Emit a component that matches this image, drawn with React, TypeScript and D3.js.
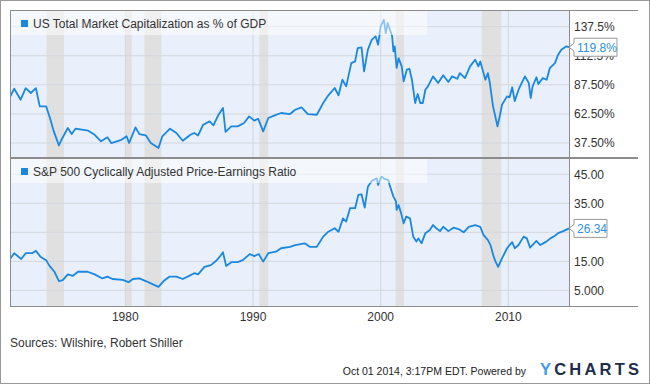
import * as d3 from "d3";
import React from "react";

// US total market cap as % of GDP (year, value)
const capYears = [
  1971.0, 1971.3, 1971.8, 1972.2, 1972.6, 1973.0, 1973.3, 1973.8, 1974.1, 1974.4, 1974.8, 1975.0,
  1975.5, 1975.8, 1976.1, 1977.1, 1977.6, 1978.1, 1978.6, 1978.9, 1979.7, 1980.1, 1980.3, 1980.8,
  1981.1, 1981.6, 1982.0, 1982.6, 1982.9, 1983.5, 1984.0, 1984.5, 1985.1, 1985.4, 1985.7, 1986.1,
  1986.6, 1986.9, 1987.3, 1987.65, 1987.85, 1988.3, 1988.8, 1989.3, 1989.7, 1990.1, 1990.4, 1990.8,
  1991.2, 1991.7, 1992.2, 1992.9, 1993.3, 1993.8, 1994.3, 1995.0, 1995.5, 1995.9, 1996.4, 1996.7,
  1997.0, 1997.3, 1997.7, 1998.0, 1998.2, 1998.5, 1998.7, 1999.0, 1999.3, 1999.6, 1999.8, 2000.0,
  2000.25, 2000.4, 2000.55, 2000.9, 2001.0, 2001.1, 2001.25, 2001.4, 2001.65, 2001.8, 2002.05,
  2002.25, 2002.45, 2002.7, 2002.9, 2003.1, 2003.3, 2003.5, 2003.7, 2004.1, 2004.5, 2004.9, 2005.3,
  2005.6, 2006.0, 2006.2, 2006.6, 2007.0, 2007.4, 2007.65, 2007.8, 2008.2, 2008.4, 2008.55, 2008.8,
  2008.95, 2009.15, 2009.35, 2009.5, 2009.9, 2010.1, 2010.3, 2010.5, 2010.8, 2011.05, 2011.3,
  2011.6, 2011.75, 2011.9, 2012.2, 2012.35, 2012.7, 2013.0, 2013.25, 2013.65, 2013.9, 2014.15,
  2014.55, 2014.75,
];
const capValues = [
  77.6, 84.2, 74.7, 84.7, 80.5, 84.7, 69, 69, 59, 47.5, 35.5, 40.3,
  50.4, 45.2, 49.8, 48.1, 44.6, 39, 42.4, 37.5, 40.3, 43.3, 37.5, 51,
  45.2, 44.1, 37.5, 33.2, 43.3, 49.8, 46.1, 39.5, 44.6, 46.1, 44, 53.2,
  56.1, 52.7, 61.8, 67.6, 47, 51.8, 51.8, 54.7, 60.4, 56.7, 58.4, 47.5,
  59, 61.3, 63.3, 62.4, 66.1, 68.2, 62.4, 61.8, 71.9, 78.5, 84.8, 78.5,
  91.9, 86.2, 106.2, 107.7, 119.1, 119.7, 99.1, 117.7, 126.2, 129.2, 122, 137.8,
  143.4, 132, 140.6, 129.2, 116.3, 120.6, 102, 110.5, 103.4, 90.5, 100.5,
  101.3, 91.9, 71.9, 79.6, 71.9, 71.9, 83.3, 86.2, 94.8, 89.1, 95.7, 89.9,
  94.8, 92.7, 97.6, 93.3, 103.4, 109.1, 103.4, 107.7, 91.9, 97.6, 89.1, 69,
  61.8, 51.8, 61.8, 70.4, 77.6, 76.8, 85.4, 73.6, 83.3, 89.1, 94.8,
  89.1, 76.2, 86.2, 94, 88.2, 93.3, 91.9, 101.9, 106.2, 113.4, 117.7,
  120.6, 119.8,
];

// S&P 500 CAPE (year, value)
const capeYears = [
  1971.0, 1971.3, 1971.85, 1972.2, 1972.7, 1973.0, 1973.35, 1973.8, 1974.05, 1974.45, 1974.8, 1975.1,
  1975.5, 1975.9, 1976.3, 1977.05, 1977.6, 1978.2, 1978.6, 1979.0, 1979.8, 1980.25, 1980.6, 1981.1,
  1981.6, 1982.0, 1982.6, 1983.0, 1983.45, 1984.0, 1984.5, 1985.0, 1985.4, 1985.7, 1986.2, 1986.7,
  1987.1, 1987.4, 1987.65, 1987.9, 1988.3, 1988.8, 1989.2, 1989.75, 1990.1, 1990.45, 1990.8, 1991.2,
  1991.8, 1992.2, 1992.9, 1993.3, 1994.05, 1994.45, 1995.0, 1995.5, 1995.9, 1996.4, 1996.7, 1997.05,
  1997.3, 1997.6, 1998.0, 1998.25, 1998.5, 1998.75, 1999.0, 1999.3, 1999.7, 1999.8, 2000.05, 2000.3,
  2000.6, 2000.7, 2001.0, 2001.2, 2001.25, 2001.4, 2001.6, 2001.8, 2002.0, 2002.3, 2002.55, 2002.8,
  2002.95, 2003.2, 2003.5, 2003.85, 2004.1, 2004.35, 2004.65, 2004.9, 2005.3, 2005.7, 2006.1, 2006.5,
  2006.9, 2007.4, 2007.8, 2008.05, 2008.4, 2008.6, 2008.85, 2009.0, 2009.2, 2009.5, 2009.9, 2010.1,
  2010.3, 2010.5, 2010.8, 2011.2, 2011.45, 2011.7, 2012.2, 2012.5, 2012.9, 2013.3, 2013.65, 2013.9,
  2014.3, 2014.75,
];
const capeValues = [
  16.0, 17.8, 15.8, 17.8, 17.8, 18.6, 16.6, 15.4, 13.5, 11.4, 8.2, 8.5,
  10.5, 10.0, 11.4, 11.4, 10.5, 9.1, 9.7, 8.9, 8.6, 7.8, 8.9, 9.1,
  8.2, 7.4, 6.2, 8.2, 9.7, 9.7, 8.9, 10.0, 10.9, 10.5, 13.1, 13.7,
  15.1, 16.6, 18.1, 13.4, 14.7, 14.7, 15.4, 17.5, 16.8, 17.5, 14.9, 17.8,
  18.3, 19.5, 20.0, 20.6, 21.2, 20.0, 20.0, 23.5, 25.2, 26.4, 25.2, 29.8,
  28.7, 33.3, 33.3, 37.9, 38.1, 33.5, 40.7, 42.7, 43.6, 41.3, 44.2, 43.4,
  43.0, 41.3, 37.3, 35.6, 32.7, 34.4, 31.6, 28.1, 30.4, 29.8, 23.5, 21.8,
  22.9, 21.2, 24.7, 25.8, 27.5, 26.4, 25.4, 26.9, 25.4, 26.6, 26.1, 25.0,
  26.9, 27.5, 26.9, 24.1, 22.3, 20.6, 16.6, 14.9, 13.1, 16.0, 19.5, 20.6,
  21.6, 19.5, 20.6, 23.5, 22.9, 19.7, 22.0, 20.6, 21.6, 22.9, 23.8, 24.7,
  25.4, 26.34,
];

const recessionStarts = [1973.83, 1980.0, 1981.5, 1990.5, 2001.17, 2007.92];
const recessionEnds = [1975.2, 1980.5, 1982.83, 1991.2, 2001.83, 2009.45];

const xTicks = [1980, 1990, 2000, 2010];
const capTicks = [37.5, 62.5, 87.5, 112.5, 137.5];
const capTickLabels = ["37.50%", "62.50%", "87.50%", "112.5%", "137.5%"];
const capeTicks = [5, 15, 25, 35, 45];
const capeTickLabels = ["5.000", "15.00", "25.00", "35.00", "45.00"];

const FONT = "'Liberation Sans', Arial, sans-serif";
const LINE = "#1a87e0";
const GRID = "#d3d7dd";
const BORDER = "#8c8c8c";

const W = 650;
const H = 384;
const left = 10;
const plotRight = 569;
const axisRight = 638;
const legendRight = 427;

const x = d3.scaleLinear().domain([1970.97, 2014.75]).range([left, plotRight]);

interface PanelProps {
  id: string;
  top: number;
  bottom: number;
  domain: [number, number];
  years: number[];
  values: number[];
  ticks: number[];
  tickLabels: string[];
  title: string;
  lastLabel: string;
  boxW: number;
}

const Panel = (p: PanelProps) => {
  const y = d3.scaleLinear().domain(p.domain).range([p.bottom, p.top]);
  const pts = p.years.map((yr, i) => [yr, p.values[i]] as [number, number]);
  const line = d3
    .line<[number, number]>()
    .x((d) => x(d[0]))
    .y((d) => y(d[1]));
  const last = pts[pts.length - 1];
  const ey = y(last[1]);
  const bx = plotRight + 5;
  const bh = 18;
  return (
    <g>
      <defs>
        <clipPath id={p.id}>
          <rect x={left} y={p.top} width={plotRight - left} height={p.bottom - p.top} />
        </clipPath>
      </defs>
      <rect x={left} y={p.top} width={plotRight - left} height={p.bottom - p.top} fill="#e9f0fb" />
      {recessionStarts.map((s, i) => (
        <rect
          key={i}
          x={x(s)}
          y={p.top}
          width={x(recessionEnds[i]) - x(s)}
          height={p.bottom - p.top}
          fill="#e0e0e0"
        />
      ))}
      {p.ticks.map((t) => (
        <line key={t} x1={left} x2={plotRight} y1={y(t)} y2={y(t)} stroke={GRID} />
      ))}
      {xTicks.map((t) => (
        <line key={t} x1={x(t)} x2={x(t)} y1={p.top} y2={p.bottom} stroke={GRID} />
      ))}
      <path
        d={line(pts) || ""}
        fill="none"
        stroke={LINE}
        strokeWidth={1.8}
        strokeLinejoin="round"
        clipPath={`url(#${p.id})`}
      />
      {/* legend band */}
      <rect x={left} y={p.top} width={legendRight - left} height={25} fill="#ffffff" fillOpacity={0.5} />
      <rect x={21} y={p.top + 10} width={7} height={7} fill={LINE} />
      <text x={33} y={p.top + 18} fontFamily={FONT} fontSize={12} fill="#333">
        {p.title}
      </text>
      {/* right axis labels */}
      {p.ticks.map((t, i) => (
        <text key={t} x={574} y={y(t) + 4.3} fontFamily={FONT} fontSize={12} fill="#333">
          {p.tickLabels[i]}
        </text>
      ))}
      {/* last value callout */}
      <path
        d={`M${plotRight},${ey} L${bx},${ey - 4} L${bx},${ey - bh / 2} L${bx + p.boxW},${ey - bh / 2} L${bx + p.boxW},${ey + bh / 2} L${bx},${ey + bh / 2} L${bx},${ey + 4} Z`}
        fill="#fff"
        stroke="#999"
      />
      <text x={bx + 3} y={ey + 4.5} fontFamily={FONT} fontSize={12} fill="#2f8fe2">
        {p.lastLabel}
      </text>
      <line x1={left} x2={axisRight} y1={p.top + 0.5} y2={p.top + 0.5} stroke={BORDER} />
      <line x1={left} x2={axisRight} y1={p.bottom + 0.5} y2={p.bottom + 0.5} stroke={BORDER} />
      <line x1={left + 0.5} x2={left + 0.5} y1={p.top} y2={p.bottom} stroke={BORDER} />
      <line x1={plotRight + 0.5} x2={plotRight + 0.5} y1={p.top} y2={p.bottom} stroke={BORDER} />
    </g>
  );
};

const App = () => {
  return (
    <svg
      width={W}
      height={H}
      style={{ position: "absolute", left: 0, top: 0, background: "#fff" }}
    >
      <rect x={0.5} y={0.5} width={W - 1} height={H - 1} fill="#fff" stroke="#999" />
      <Panel
        id="clipTop"
        top={10}
        bottom={157}
        domain={[25.5, 151.8]}
        years={capYears}
        values={capValues}
        ticks={capTicks}
        tickLabels={capTickLabels}
        title="US Total Market Capitalization as % of GDP"
        lastLabel="119.8%"
        boxW={43}
      />
      <Panel
        id="clipBottom"
        top={158}
        bottom={306}
        domain={[-0.4, 50.6]}
        years={capeYears}
        values={capeValues}
        ticks={capeTicks}
        tickLabels={capeTickLabels}
        title="S&P 500 Cyclically Adjusted Price-Earnings Ratio"
        lastLabel="26.34"
        boxW={33}
      />
      {xTicks.map((t) => (
        <text key={t} x={x(t)} y={321} textAnchor="middle" fontFamily={FONT} fontSize={12} fill="#333">
          {t}
        </text>
      ))}
      <text x={10} y={347} fontFamily={FONT} fontSize={12} fill="#333">
        Sources: Wilshire, Robert Shiller
      </text>
      <text x={526} y={375} textAnchor="end" fontFamily={FONT} fontSize={10.5} fill="#222">
        Oct 01 2014, 3:17PM EDT.  Powered by
      </text>
      <text x={540} y={375} fontFamily={FONT} fontSize={16.5} fontWeight="bold" letterSpacing={3.2}>
        <tspan fill="#3d9be9">Y</tspan>
        <tspan fill="#1e2d4f">CHARTS</tspan>
      </text>
    </svg>
  );
};

export default App;
